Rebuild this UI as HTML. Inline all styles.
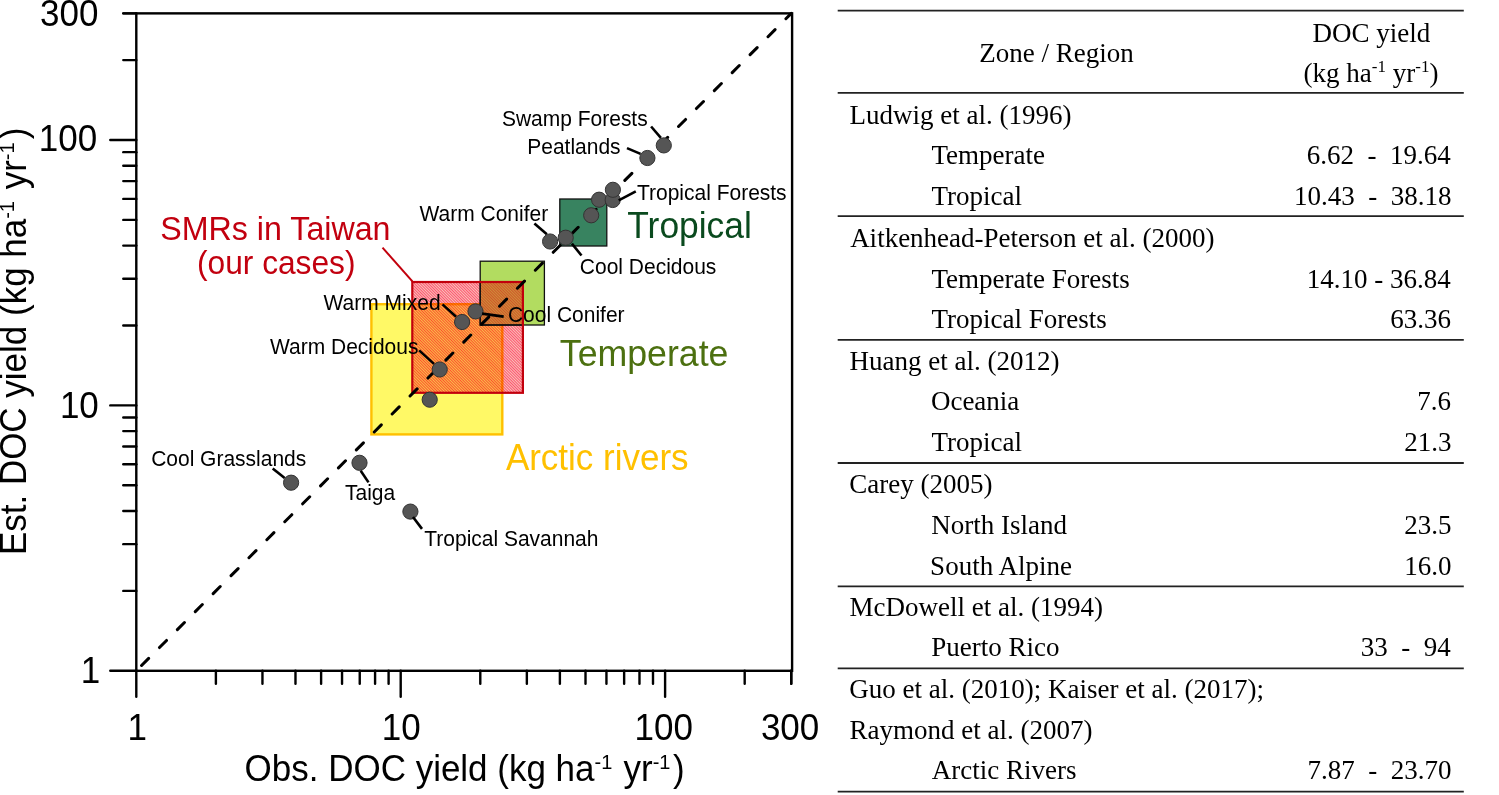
<!DOCTYPE html>
<html><head><meta charset="utf-8"><title>DOC yield comparison</title>
<style>
html,body{margin:0;padding:0;background:#fff;}
body{width:1499px;height:795px;overflow:hidden;position:relative;}
svg{position:absolute;left:0;top:0;display:block;}
.s{font-family:"Liberation Sans",Arial,sans-serif;}
.r{font-family:"Liberation Serif","Times New Roman",serif;}
</style></head><body>
<svg width="1499" height="795" viewBox="0 0 1499 795">
<defs>
<pattern id="hatch" patternUnits="userSpaceOnUse" width="2" height="2" patternTransform="rotate(-45)">
<rect width="2" height="2" fill="#f7c4b8"/><rect width="1" height="2" fill="#ff5272"/>
</pattern>
</defs>
<rect width="1499" height="795" fill="#fff"/>

<rect x="371.4" y="304.2" width="130.9" height="130.2" fill="#fff966" stroke="#ffc000" stroke-width="2.4"/>
<rect x="480.2" y="261.2" width="64.2" height="63.8" fill="#b2dc60" stroke="#111" stroke-width="1.3"/>
<rect x="559.8" y="199" width="47" height="47" fill="#388360" stroke="#111" stroke-width="1.3"/>
<rect x="412.3" y="282" width="110.6" height="110.8" fill="url(#hatch)" style="mix-blend-mode:multiply"/>
<rect x="481" y="282.5" width="41" height="41.8" fill="#ff6a28" fill-opacity="0.4"/>
<path d="M480.2 282 V325 H522" fill="none" stroke="#111" stroke-width="1.3"/>
<rect x="412.3" y="282" width="110.6" height="110.8" fill="none" stroke="#c2000c" stroke-width="2.2"/>
<line x1="382.5" y1="247.6" x2="412.4" y2="281.4" stroke="#c2000c" stroke-width="2"/>
<line x1="136.30" y1="670.80" x2="791.25" y2="13.37" stroke="#000" stroke-width="3" stroke-linecap="round" stroke-dasharray="10 15.36" stroke-dashoffset="17.89"/>
<rect x="136.3" y="13.37" width="655.80" height="657.43" fill="none" stroke="#000" stroke-width="2.4"/>
<line x1="136.30" y1="670.8" x2="136.30" y2="696.8" stroke="#000" stroke-width="2.4" stroke-linecap="round"/>
<line x1="136.3" y1="670.80" x2="110.30000000000001" y2="670.80" stroke="#000" stroke-width="2.4" stroke-linecap="round"/>
<line x1="215.89" y1="670.8" x2="215.89" y2="683.8" stroke="#000" stroke-width="2.4" stroke-linecap="round"/>
<line x1="136.3" y1="590.91" x2="123.30000000000001" y2="590.91" stroke="#000" stroke-width="2.4" stroke-linecap="round"/>
<line x1="262.45" y1="670.8" x2="262.45" y2="683.8" stroke="#000" stroke-width="2.4" stroke-linecap="round"/>
<line x1="136.3" y1="544.17" x2="123.30000000000001" y2="544.17" stroke="#000" stroke-width="2.4" stroke-linecap="round"/>
<line x1="295.48" y1="670.8" x2="295.48" y2="683.8" stroke="#000" stroke-width="2.4" stroke-linecap="round"/>
<line x1="136.3" y1="511.01" x2="123.30000000000001" y2="511.01" stroke="#000" stroke-width="2.4" stroke-linecap="round"/>
<line x1="321.11" y1="670.8" x2="321.11" y2="683.8" stroke="#000" stroke-width="2.4" stroke-linecap="round"/>
<line x1="136.3" y1="485.29" x2="123.30000000000001" y2="485.29" stroke="#000" stroke-width="2.4" stroke-linecap="round"/>
<line x1="342.04" y1="670.8" x2="342.04" y2="683.8" stroke="#000" stroke-width="2.4" stroke-linecap="round"/>
<line x1="136.3" y1="464.28" x2="123.30000000000001" y2="464.28" stroke="#000" stroke-width="2.4" stroke-linecap="round"/>
<line x1="359.74" y1="670.8" x2="359.74" y2="683.8" stroke="#000" stroke-width="2.4" stroke-linecap="round"/>
<line x1="136.3" y1="446.51" x2="123.30000000000001" y2="446.51" stroke="#000" stroke-width="2.4" stroke-linecap="round"/>
<line x1="375.08" y1="670.8" x2="375.08" y2="683.8" stroke="#000" stroke-width="2.4" stroke-linecap="round"/>
<line x1="136.3" y1="431.12" x2="123.30000000000001" y2="431.12" stroke="#000" stroke-width="2.4" stroke-linecap="round"/>
<line x1="388.60" y1="670.8" x2="388.60" y2="683.8" stroke="#000" stroke-width="2.4" stroke-linecap="round"/>
<line x1="136.3" y1="417.54" x2="123.30000000000001" y2="417.54" stroke="#000" stroke-width="2.4" stroke-linecap="round"/>
<line x1="400.70" y1="670.8" x2="400.70" y2="696.8" stroke="#000" stroke-width="2.4" stroke-linecap="round"/>
<line x1="136.3" y1="405.40" x2="110.30000000000001" y2="405.40" stroke="#000" stroke-width="2.4" stroke-linecap="round"/>
<line x1="480.29" y1="670.8" x2="480.29" y2="683.8" stroke="#000" stroke-width="2.4" stroke-linecap="round"/>
<line x1="136.3" y1="325.51" x2="123.30000000000001" y2="325.51" stroke="#000" stroke-width="2.4" stroke-linecap="round"/>
<line x1="526.85" y1="670.8" x2="526.85" y2="683.8" stroke="#000" stroke-width="2.4" stroke-linecap="round"/>
<line x1="136.3" y1="278.77" x2="123.30000000000001" y2="278.77" stroke="#000" stroke-width="2.4" stroke-linecap="round"/>
<line x1="559.88" y1="670.8" x2="559.88" y2="683.8" stroke="#000" stroke-width="2.4" stroke-linecap="round"/>
<line x1="136.3" y1="245.61" x2="123.30000000000001" y2="245.61" stroke="#000" stroke-width="2.4" stroke-linecap="round"/>
<line x1="585.51" y1="670.8" x2="585.51" y2="683.8" stroke="#000" stroke-width="2.4" stroke-linecap="round"/>
<line x1="136.3" y1="219.89" x2="123.30000000000001" y2="219.89" stroke="#000" stroke-width="2.4" stroke-linecap="round"/>
<line x1="606.44" y1="670.8" x2="606.44" y2="683.8" stroke="#000" stroke-width="2.4" stroke-linecap="round"/>
<line x1="136.3" y1="198.88" x2="123.30000000000001" y2="198.88" stroke="#000" stroke-width="2.4" stroke-linecap="round"/>
<line x1="624.14" y1="670.8" x2="624.14" y2="683.8" stroke="#000" stroke-width="2.4" stroke-linecap="round"/>
<line x1="136.3" y1="181.11" x2="123.30000000000001" y2="181.11" stroke="#000" stroke-width="2.4" stroke-linecap="round"/>
<line x1="639.48" y1="670.8" x2="639.48" y2="683.8" stroke="#000" stroke-width="2.4" stroke-linecap="round"/>
<line x1="136.3" y1="165.72" x2="123.30000000000001" y2="165.72" stroke="#000" stroke-width="2.4" stroke-linecap="round"/>
<line x1="653.00" y1="670.8" x2="653.00" y2="683.8" stroke="#000" stroke-width="2.4" stroke-linecap="round"/>
<line x1="136.3" y1="152.14" x2="123.30000000000001" y2="152.14" stroke="#000" stroke-width="2.4" stroke-linecap="round"/>
<line x1="665.10" y1="670.8" x2="665.10" y2="696.8" stroke="#000" stroke-width="2.4" stroke-linecap="round"/>
<line x1="136.3" y1="140.00" x2="110.30000000000001" y2="140.00" stroke="#000" stroke-width="2.4" stroke-linecap="round"/>
<line x1="744.69" y1="670.8" x2="744.69" y2="683.8" stroke="#000" stroke-width="2.4" stroke-linecap="round"/>
<line x1="136.3" y1="60.11" x2="123.30000000000001" y2="60.11" stroke="#000" stroke-width="2.4" stroke-linecap="round"/>
<line x1="791.25" y1="670.8" x2="791.25" y2="683.8" stroke="#000" stroke-width="2.4" stroke-linecap="round"/>
<line x1="136.3" y1="13.37" x2="123.30000000000001" y2="13.37" stroke="#000" stroke-width="2.4" stroke-linecap="round"/>
<line x1="791.25" y1="670.8" x2="791.25" y2="683.8" stroke="#000" stroke-width="2.4" stroke-linecap="round"/>
<line x1="136.3" y1="13.37" x2="123.30000000000001" y2="13.37" stroke="#000" stroke-width="2.4" stroke-linecap="round"/>
<circle cx="663.8" cy="145.4" r="7.6" fill="#555" stroke="#333" stroke-width="1"/>
<circle cx="647.4" cy="158" r="7.6" fill="#555" stroke="#333" stroke-width="1"/>
<circle cx="591.2" cy="215.3" r="7.6" fill="#555" stroke="#333" stroke-width="1"/>
<circle cx="599.1" cy="199.7" r="7.6" fill="#555" stroke="#333" stroke-width="1"/>
<circle cx="612.7" cy="200" r="7.6" fill="#555" stroke="#333" stroke-width="1"/>
<circle cx="612.9" cy="189.8" r="7.6" fill="#555" stroke="#333" stroke-width="1"/>
<circle cx="565.7" cy="237.7" r="7.6" fill="#555" stroke="#333" stroke-width="1"/>
<circle cx="550.1" cy="241.5" r="7.6" fill="#555" stroke="#333" stroke-width="1"/>
<circle cx="462.1" cy="322" r="7.6" fill="#555" stroke="#333" stroke-width="1"/>
<circle cx="475.5" cy="311.4" r="7.6" fill="#555" stroke="#333" stroke-width="1"/>
<circle cx="439.7" cy="369.5" r="7.6" fill="#555" stroke="#333" stroke-width="1"/>
<circle cx="429.7" cy="399.7" r="7.6" fill="#555" stroke="#333" stroke-width="1"/>
<circle cx="291.1" cy="482.7" r="7.6" fill="#555" stroke="#333" stroke-width="1"/>
<circle cx="359.5" cy="462.8" r="7.6" fill="#555" stroke="#333" stroke-width="1"/>
<circle cx="410.4" cy="511.6" r="7.6" fill="#555" stroke="#333" stroke-width="1"/>
<line x1="651.1" y1="126.5" x2="660.88" y2="137.95" stroke="#000" stroke-width="2.6" stroke-linecap="butt"/>
<line x1="627" y1="148.1" x2="640.55" y2="153.86" stroke="#000" stroke-width="2.6" stroke-linecap="butt"/>
<line x1="618.7" y1="200.4" x2="635.80" y2="191.30" stroke="#000" stroke-width="2.6" stroke-linecap="butt"/>
<line x1="534.4" y1="223.5" x2="546.86" y2="234.18" stroke="#000" stroke-width="2.6" stroke-linecap="butt"/>
<line x1="571.9" y1="243.6" x2="581.50" y2="255.50" stroke="#000" stroke-width="2.6" stroke-linecap="butt"/>
<line x1="442.5" y1="304.4" x2="456.11" y2="316.70" stroke="#000" stroke-width="2.6" stroke-linecap="butt"/>
<line x1="482.1" y1="313.6" x2="503.70" y2="316.60" stroke="#000" stroke-width="2.6" stroke-linecap="butt"/>
<line x1="419.1" y1="350.4" x2="433.99" y2="363.90" stroke="#000" stroke-width="2.6" stroke-linecap="butt"/>
<line x1="272.7" y1="468.4" x2="284.64" y2="477.97" stroke="#000" stroke-width="2.6" stroke-linecap="butt"/>
<line x1="360.7" y1="470.7" x2="368.50" y2="482.40" stroke="#000" stroke-width="2.6" stroke-linecap="butt"/>
<line x1="413" y1="517" x2="422.00" y2="528.90" stroke="#000" stroke-width="2.6" stroke-linecap="butt"/>
<text x="501.95" y="125.7" class="s" font-size="21" fill="#000" transform="matrix(1,0,0,1.04,0,-5.028)">Swamp Forests</text>
<text x="527.22" y="153.9" class="s" font-size="21" fill="#000" transform="matrix(1,0,0,1.04,0,-6.156)">Peatlands</text>
<text x="636.98" y="200" class="s" font-size="21" fill="#000" transform="matrix(1,0,0,1.04,0,-8.000)">Tropical Forests</text>
<text x="419.50" y="221.2" class="s" font-size="21" fill="#000" transform="matrix(1,0,0,1.04,0,-8.848)">Warm Conifer</text>
<text x="579.85" y="274.2" class="s" font-size="21" fill="#000" transform="matrix(1,0,0,1.04,0,-10.968)">Cool Decidous</text>
<text x="323.60" y="310" class="s" font-size="21" fill="#000" transform="matrix(1,0,0,1.04,0,-12.400)">Warm Mixed</text>
<text x="507.95" y="322.4" class="s" font-size="21" fill="#000" transform="matrix(1,0,0,1.04,0,-12.896)">Cool Conifer</text>
<text x="270.00" y="354.4" class="s" font-size="21" fill="#000" transform="matrix(1,0,0,1.04,0,-14.176)">Warm Decidous</text>
<text x="151.15" y="465.9" class="s" font-size="21" fill="#000" transform="matrix(1,0,0,1.04,0,-18.636)">Cool Grasslands</text>
<text x="344.98" y="500.1" class="s" font-size="21" fill="#000" transform="matrix(1,0,0,1.04,0,-20.004)">Taiga</text>
<text x="424.28" y="546.4" class="s" font-size="21" fill="#000" transform="matrix(1,0,0,1.04,0,-21.856)">Tropical Savannah</text>
<text x="627.29" y="238.3" class="s" font-size="35.4" fill="#0a4a1e" transform="matrix(1,0,0,1.04,0,-9.532)">Tropical</text>
<text x="559.79" y="366.1" class="s" font-size="35.7" fill="#4c7010" transform="matrix(1,0,0,1.04,0,-14.644)">Temperate</text>
<text x="505.90" y="470.1" class="s" font-size="35" fill="#ffc000" transform="matrix(1,0,0,1.04,0,-18.804)">Arctic rivers</text>
<text x="160.29" y="239.7" class="s" font-size="32.2" fill="#c2000f" transform="matrix(1,0,0,1.04,0,-9.588)">SMRs in Taiwan</text>
<text x="197.00" y="273.6" class="s" font-size="31.7" fill="#c2000f" transform="matrix(1,0,0,1.04,0,-10.944)">(our cases)</text>
<text x="40.00" y="25.5" class="s" font-size="35" fill="#000" transform="matrix(1,0,0,1.04,0,-1.020)">300</text>
<text x="38.80" y="151.5" class="s" font-size="35" fill="#000" transform="matrix(1,0,0,1.04,0,-6.060)">100</text>
<text x="59.90" y="417.8" class="s" font-size="35" fill="#000" transform="matrix(1,0,0,1.04,0,-16.712)">10</text>
<text x="80.80" y="682.9" class="s" font-size="35" fill="#000" transform="matrix(1,0,0,1.04,0,-27.316)">1</text>
<text x="127.60" y="740.5" class="s" font-size="35" fill="#000" transform="matrix(1,0,0,1.04,0,-29.620)">1</text>
<text x="381.80" y="740.5" class="s" font-size="35" fill="#000" transform="matrix(1,0,0,1.04,0,-29.620)">10</text>
<text x="634.60" y="740.5" class="s" font-size="35" fill="#000" transform="matrix(1,0,0,1.04,0,-29.620)">100</text>
<text x="760.90" y="740.5" class="s" font-size="35" fill="#000" transform="matrix(1,0,0,1.04,0,-29.620)">300</text>
<text x="244.6" y="780.8" class="s" font-size="35" transform="matrix(1,0,0,1.04,0,-31.232)">Obs. DOC yield (kg ha<tspan dy="-11.5" font-size="20">-1</tspan><tspan dy="11.5" dx="1.5"> yr</tspan><tspan dy="-11.5" font-size="20">-1</tspan><tspan dy="11.5" dx="2.5">)</tspan></text>
<text transform="translate(26.4,555.1) rotate(-90) scale(1,1.04)" class="s" font-size="35">Est. DOC yield (kg ha<tspan dy="-11.5" font-size="20">-1</tspan><tspan dy="11.5" dx="2"> yr</tspan><tspan dy="-11.5" font-size="20">-1</tspan><tspan dy="11.5" dx="3">)</tspan></text>
<line x1="837.7" y1="10.6" x2="1463.8" y2="10.6" stroke="#222" stroke-width="1.8"/>
<line x1="837.7" y1="92.9" x2="1463.8" y2="92.9" stroke="#222" stroke-width="1.8"/>
<line x1="837.7" y1="216.2" x2="1463.8" y2="216.2" stroke="#222" stroke-width="1.8"/>
<line x1="837.7" y1="339.9" x2="1463.8" y2="339.9" stroke="#222" stroke-width="1.8"/>
<line x1="837.7" y1="463.0" x2="1463.8" y2="463.0" stroke="#222" stroke-width="1.8"/>
<line x1="837.7" y1="586.3" x2="1463.8" y2="586.3" stroke="#222" stroke-width="1.8"/>
<line x1="837.7" y1="668.4" x2="1463.8" y2="668.4" stroke="#222" stroke-width="1.8"/>
<line x1="837.7" y1="791.6" x2="1463.8" y2="791.6" stroke="#222" stroke-width="1.8"/>
<text x="979.35" y="61.8" class="r" font-size="27" fill="#000" text-anchor="start" xml:space="preserve">Zone / Region</text>
<text x="1371.30" y="41.5" class="r" font-size="27" fill="#000" text-anchor="middle" xml:space="preserve">DOC yield</text>
<text x="1371" y="82" class="r" font-size="27" text-anchor="middle">(kg ha<tspan dy="-10" font-size="17">-1</tspan><tspan dy="10"> yr</tspan><tspan dy="-10" font-size="17">-1</tspan><tspan dy="10">)</tspan></text>
<text x="849.59" y="123.6" class="r" font-size="27" fill="#000" text-anchor="start" xml:space="preserve">Ludwig et al. (1996)</text>
<text x="931.46" y="164.4" class="r" font-size="27" fill="#000" text-anchor="start" xml:space="preserve">Temperate</text>
<text x="1450.65" y="164.4" class="r" font-size="27" fill="#000" text-anchor="end" xml:space="preserve">6.62  -  19.64</text>
<text x="931.46" y="204.6" class="r" font-size="27" fill="#000" text-anchor="start" xml:space="preserve">Tropical</text>
<text x="1451.46" y="204.6" class="r" font-size="27" fill="#000" text-anchor="end" xml:space="preserve">10.43  -  38.18</text>
<text x="850.13" y="247.4" class="r" font-size="27" fill="#000" text-anchor="start" xml:space="preserve">Aitkenhead-Peterson et al. (2000)</text>
<text x="931.46" y="288.1" class="r" font-size="27" fill="#000" text-anchor="start" xml:space="preserve">Temperate Forests</text>
<text x="1450.65" y="288.1" class="r" font-size="27" fill="#000" text-anchor="end" xml:space="preserve">14.10 - 36.84</text>
<text x="931.46" y="328.3" class="r" font-size="27" fill="#000" text-anchor="start" xml:space="preserve">Tropical Forests</text>
<text x="1451.11" y="328.3" class="r" font-size="27" fill="#000" text-anchor="end" xml:space="preserve">63.36</text>
<text x="849.59" y="369.8" class="r" font-size="27" fill="#000" text-anchor="start" xml:space="preserve">Huang et al. (2012)</text>
<text x="930.92" y="410" class="r" font-size="27" fill="#000" text-anchor="start" xml:space="preserve">Oceania</text>
<text x="1451.11" y="410" class="r" font-size="27" fill="#000" text-anchor="end" xml:space="preserve">7.6</text>
<text x="931.46" y="451" class="r" font-size="27" fill="#000" text-anchor="start" xml:space="preserve">Tropical</text>
<text x="1451.38" y="451" class="r" font-size="27" fill="#000" text-anchor="end" xml:space="preserve">21.3</text>
<text x="849.32" y="493.3" class="r" font-size="27" fill="#000" text-anchor="start" xml:space="preserve">Carey (2005)</text>
<text x="931.19" y="533.6" class="r" font-size="27" fill="#000" text-anchor="start" xml:space="preserve">North Island</text>
<text x="1451.38" y="533.6" class="r" font-size="27" fill="#000" text-anchor="end" xml:space="preserve">23.5</text>
<text x="930.11" y="574.7" class="r" font-size="27" fill="#000" text-anchor="start" xml:space="preserve">South Alpine</text>
<text x="1451.38" y="574.7" class="r" font-size="27" fill="#000" text-anchor="end" xml:space="preserve">16.0</text>
<text x="849.59" y="616.3" class="r" font-size="27" fill="#000" text-anchor="start" xml:space="preserve">McDowell et al. (1994)</text>
<text x="931.19" y="656.4" class="r" font-size="27" fill="#000" text-anchor="start" xml:space="preserve">Puerto Rico</text>
<text x="1450.65" y="656.4" class="r" font-size="27" fill="#000" text-anchor="end" xml:space="preserve">33  -  94</text>
<text x="849.32" y="698.2" class="r" font-size="27" fill="#000" text-anchor="start" xml:space="preserve">Guo et al. (2010); Kaiser et al. (2017);</text>
<text x="849.59" y="739" class="r" font-size="27" fill="#000" text-anchor="start" xml:space="preserve">Raymond et al. (2007)</text>
<text x="931.73" y="779.1" class="r" font-size="27" fill="#000" text-anchor="start" xml:space="preserve">Arctic Rivers</text>
<text x="1451.46" y="779.1" class="r" font-size="27" fill="#000" text-anchor="end" xml:space="preserve">7.87  -  23.70</text>
</svg></body></html>
